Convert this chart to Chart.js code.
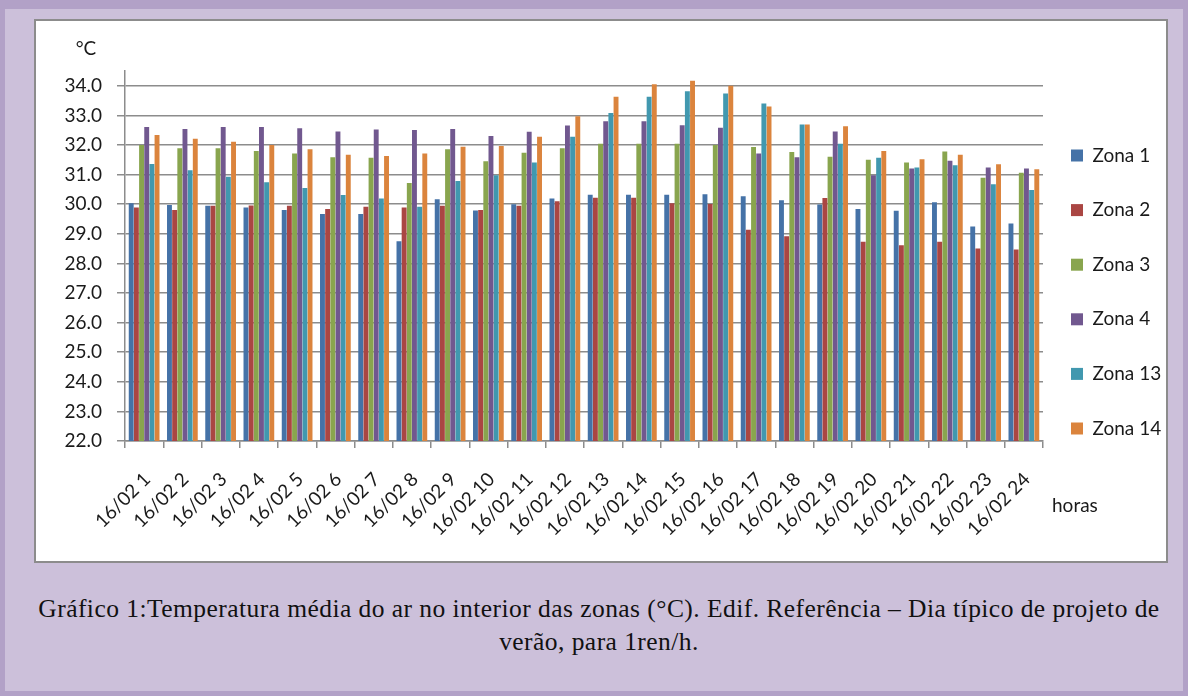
<!DOCTYPE html>
<html>
<head>
<meta charset="utf-8">
<script src="https://cdn.jsdelivr.net/npm/chart.js@4.4.1/dist/chart.umd.min.js"></script>
<style>
  html, body { margin: 0; padding: 0; }
  body { width: 1188px; height: 696px; background: #ccc0da; position: relative; overflow: hidden; }
  #frame { position: absolute; left: 0; top: 0; width: 1188px; height: 696px; box-sizing: border-box;
           border-style: solid; border-color: #b2a1c7; border-width: 9px 5px 5px 5px; }
  #box { position: absolute; left: 34px; top: 19px; width: 1130px; height: 540px;
         border: 2px solid #8c8c8c; background: #fff; }
  #caption { position: absolute; left: 36px; width: 1126px; top: 592px; text-align: center;
             font-family: 'Liberation Serif', 'Times New Roman', serif; font-size: 25.5px;
             letter-spacing: 0.45px; line-height: 33px; color: #111; }
</style>
</head>
<body>
<div id="frame"></div>
<div id="box"><canvas id="grafico1" width="1130" height="540"></canvas></div>
<div id="caption">Gráfico 1:Temperatura média do ar no interior das zonas (°C). Edif. Referência – Dia típico de projeto de<br>verão, para 1ren/h.</div>
<script>
// temperatura média do ar por zona, dia típico de verão (1 ren/h)
var horas = ["16/02 1", "16/02 2", "16/02 3", "16/02 4", "16/02 5", "16/02 6", "16/02 7", "16/02 8",
  "16/02 9", "16/02 10", "16/02 11", "16/02 12", "16/02 13", "16/02 14", "16/02 15", "16/02 16",
  "16/02 17", "16/02 18", "16/02 19", "16/02 20", "16/02 21", "16/02 22", "16/02 23", "16/02 24"];

var zona1 = [30.03, 29.97, 29.95, 29.89, 29.80, 29.67, 29.67, 28.75, 30.17, 29.79, 30.00, 30.19,
  30.32, 30.32, 30.32, 30.34, 30.27, 30.13, 29.99, 29.84, 29.78, 30.07, 29.25, 29.35];
var zona2 = [29.89, 29.80, 29.95, 29.96, 29.95, 29.84, 29.91, 29.89, 29.95, 29.80, 29.95, 30.10,
  30.22, 30.22, 30.03, 30.01, 29.14, 28.92, 30.21, 28.73, 28.61, 28.73, 28.50, 28.47];
var zona3 = [32.00, 31.89, 31.89, 31.80, 31.71, 31.59, 31.57, 30.72, 31.86, 31.45, 31.74, 31.89,
  32.04, 32.04, 32.04, 32.00, 31.93, 31.76, 31.60, 31.50, 31.41, 31.78, 30.89, 31.06];
var zona4 = [32.61, 32.54, 32.61, 32.61, 32.57, 32.46, 32.52, 32.51, 32.54, 32.30, 32.45, 32.66,
  32.80, 32.80, 32.67, 32.58, 31.71, 31.59, 32.46, 30.98, 31.21, 31.47, 31.24, 31.21];
var zona13 = [31.36, 31.15, 30.93, 30.74, 30.55, 30.31, 30.19, 29.91, 30.78, 30.98, 31.41, 32.28,
  33.08, 33.63, 33.82, 33.74, 33.40, 32.69, 32.04, 31.57, 31.24, 31.32, 30.67, 30.48];
var zona14 = [32.34, 32.21, 32.11, 32.00, 31.86, 31.67, 31.63, 31.71, 31.94, 31.97, 32.28, 32.97,
  33.63, 34.05, 34.17, 34.00, 33.30, 32.69, 32.63, 31.80, 31.52, 31.67, 31.35, 31.18];

var ticksY = [22, 23, 24, 25, 26, 27, 28, 29, 30, 31, 32, 33, 34];

var zonas = ["Zona 1", "Zona 2", "Zona 3", "Zona 4", "Zona 13", "Zona 14"];
var cores = ["#4572a7", "#aa4643", "#89a54e", "#71588f", "#4198af", "#db843d"];
var valores = [zona1, zona2, zona3, zona4, zona13, zona14];

var fonte = { family: "Lato, 'Open Sans', sans-serif", size: 19 };
var cinza = "#8c8c8c";

// °C e "horas" ficam fora dos eixos, como no excel
var rotulosUnidades = {
  id: "rotulosUnidades",
  afterDraw: function (chart) {
    var ctx = chart.ctx, area = chart.chartArea;
    ctx.save();
    ctx.font = "19px Lato, 'Open Sans', sans-serif";
    ctx.fillStyle = "#1a1a1a";
    ctx.textBaseline = "middle";
    ctx.textAlign = "center";
    ctx.fillText("°C", area.left - 39, area.top - 22);
    ctx.textAlign = "left";
    ctx.fillText("horas", area.right + 9, area.bottom + 65);
    ctx.restore();
  }
};

new Chart("grafico1", {
  type: "bar",
  data: {
    labels: horas,
    datasets: zonas.map(function (nome, i) {
      return {
        label: nome,
        data: valores[i],
        backgroundColor: cores[i],
        borderWidth: 0,
        categoryPercentage: 0.81,
        barPercentage: 0.95
      };
    })
  },
  options: {
    responsive: false,
    animation: false,
    layout: { padding: { top: 50, bottom: 15, left: 0, right: 5 } },
    plugins: {
      tooltip: { enabled: false },
      legend: {
        position: "right",
        align: "start",
        maxWidth: 118,
        // titulo vazio só para empurrar a legenda para baixo
        title: { display: true, text: "", padding: 0, font: { size: 19, lineHeight: "47px" } },
        labels: {
          boxWidth: 12,
          boxHeight: 12,
          padding: 28,
          color: "#1a1a1a",
          font: { family: fonte.family, size: 19, lineHeight: 1.4 },
          generateLabels: function (chart) {
            // texto em lista para o espaçamento vertical usar o lineHeight
            return Chart.defaults.plugins.legend.labels.generateLabels(chart).map(function (l) {
              l.text = [l.text];
              return l;
            });
          }
        }
      }
    },
    scales: {
      x: {
        grid: { display: true, drawOnChartArea: false, tickLength: 7, color: cinza, lineWidth: 1.5 },
        border: { color: cinza, width: 1.5 },
        ticks: { autoSkip: false, minRotation: 45, maxRotation: 45, color: "#1a1a1a", font: fonte,
                 padding: 20, labelOffset: 3 },
        afterFit: function (s) { s.height = 105; }
      },
      y: {
        min: 22,
        max: 34.5,
        grid: { color: cinza, lineWidth: 1.5, tickLength: 8 },
        border: { color: cinza, width: 1.5 },
        ticks: {
          padding: 15,
          color: "#1a1a1a",
          font: fonte,
          callback: function (v) { return Number(v).toFixed(1); }
        },
        afterBuildTicks: function (s) {
          s.ticks = ticksY.map(function (v) { return { value: v }; });
        },
        afterFit: function (s) { s.width = 89; }
      }
    }
  },
  plugins: [rotulosUnidades]
});
</script>
</body>
</html>
